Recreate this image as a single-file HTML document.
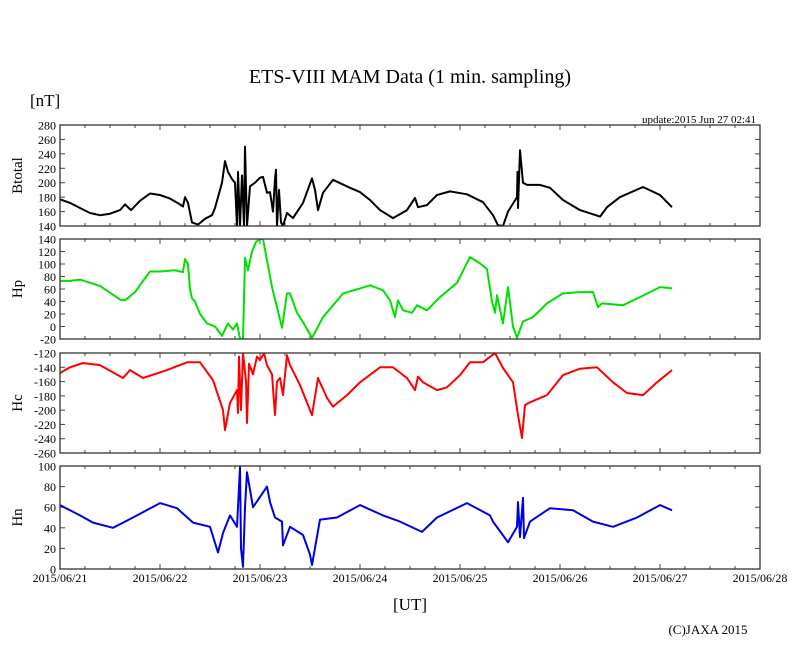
<!DOCTYPE html>
<html><head><meta charset="utf-8">
<style>
html,body{margin:0;padding:0;background:#fff;}
svg text{font-family:"Liberation Serif",serif;fill:#000;}
</style></head>
<body>
<svg id="chart" width="810" height="655" viewBox="0 0 810 655" xmlns="http://www.w3.org/2000/svg">
<text x="410" y="83" font-size="20" text-anchor="middle">ETS-VIII MAM Data (1 min. sampling)</text>
<text x="30" y="106" font-size="17">[nT]</text>
<text x="756" y="123" font-size="11" text-anchor="end">update:2015 Jun 27 02:41</text>
<text x="410" y="610" font-size="17" text-anchor="middle">[UT]</text>
<text x="708" y="634" font-size="13" text-anchor="middle">(C)JAXA 2015</text>
<g id="panels"></g>
</svg>
<script>
const xDays = ["2015/06/21","2015/06/22","2015/06/23","2015/06/24","2015/06/25","2015/06/26","2015/06/27","2015/06/28"];
const btT = [0,.10,.20,.30,.40,.50,.60,.65,.71,.80,.90,1.00,1.10,1.20,1.23,1.25,1.28,1.32,1.38,1.45,1.52,1.55,1.62,1.65,1.68,1.72,1.75,1.77,1.78,1.80,1.82,1.84,1.85,1.87,1.90,1.95,2.00,2.03,2.07,2.10,2.13,2.15,2.16,2.17,2.19,2.21,2.23,2.27,2.33,2.43,2.52,2.55,2.58,2.63,2.73,2.90,3.00,3.10,3.20,3.33,3.47,3.55,3.58,3.67,3.77,3.90,4.07,4.23,4.33,4.38,4.43,4.48,4.57,4.575,4.58,4.60,4.63,4.67,4.80,4.90,5.03,5.20,5.40,5.47,5.60,5.83,6.00,6.12];
const btV = [177,172,165,158,155,157,162,170,162,175,185,183,178,170,167,180,172,145,142,150,155,165,200,230,215,205,200,140,215,140,210,140,250,140,195,200,207,208,186,187,160,205,218,140,190,145,140,158,151,172,206,190,162,186,204,193,187,176,162,151,162,179,166,169,183,188,184,173,155,141,140,160,180,215,165,245,200,197,197,193,176,162,153,166,180,194,183,166];
const hpT = [0,.10,.20,.40,.60,.65,.75,.90,1.00,1.15,1.23,1.25,1.28,1.30,1.32,1.35,1.40,1.47,1.55,1.62,1.65,1.68,1.73,1.77,1.80,1.83,1.85,1.88,1.92,1.96,2.00,2.03,2.07,2.12,2.17,2.22,2.27,2.30,2.37,2.43,2.52,2.63,2.80,2.83,3.00,3.10,3.23,3.30,3.35,3.38,3.43,3.52,3.57,3.67,3.80,3.97,4.10,4.20,4.27,4.32,4.35,4.37,4.43,4.48,4.53,4.57,4.63,4.73,4.87,5.03,5.20,5.33,5.38,5.42,5.63,5.80,6.00,6.12];
const hpV = [73,73,75,65,43,42,55,88,88,90,87,108,100,60,45,40,20,5,0,-15,-5,5,-5,5,-20,-20,110,90,120,135,140,140,106,63,31,-2,53,53,22,7,-18,15,47,53,61,66,58,42,15,42,26,22,34,26,47,70,111,101,92,40,22,50,5,63,0,-18,8,15,37,53,55,55,31,37,34,47,63,61];
const hcT = [0,.10,.23,.40,.63,.70,.83,1.07,1.27,1.40,1.53,1.63,1.65,1.70,1.77,1.78,1.79,1.81,1.83,1.86,1.87,1.89,1.93,1.97,2.00,2.04,2.07,2.12,2.15,2.17,2.20,2.23,2.27,2.30,2.40,2.52,2.58,2.67,2.73,2.87,3.00,3.20,3.33,3.47,3.55,3.58,3.63,3.77,3.87,4.00,4.10,4.23,4.35,4.43,4.53,4.58,4.62,4.65,4.70,4.87,5.03,5.20,5.37,5.53,5.67,5.83,5.97,6.12];
const hcV = [-148,-140,-134,-137,-155,-144,-155,-144,-133,-133,-158,-200,-228,-190,-172,-204,-125,-200,-120,-160,-218,-135,-150,-125,-130,-120,-137,-150,-207,-160,-155,-179,-123,-137,-165,-207,-155,-183,-195,-179,-161,-140,-140,-155,-172,-153,-161,-172,-168,-151,-133,-133,-120,-141,-161,-207,-239,-193,-189,-179,-151,-142,-140,-161,-176,-179,-161,-144];
const hnT = [0,.20,.33,.53,.73,1.00,1.17,1.33,1.50,1.58,1.63,1.70,1.77,1.80,1.81,1.83,1.85,1.87,1.93,2.00,2.07,2.10,2.15,2.22,2.23,2.30,2.43,2.50,2.52,2.60,2.77,3.00,3.23,3.40,3.62,3.77,4.07,4.30,4.33,4.48,4.57,4.58,4.60,4.63,4.64,4.70,4.90,5.13,5.33,5.53,5.77,6.00,6.12];
const hnV = [62,52,45,40,50,64,59,45,41,16,35,52,41,99,20,2,60,94,60,70,80,65,50,46,23,41,33,14,4,48,50,62,52,46,36,50,64,52,46,26,41,65,31,69,30,46,59,57,46,41,50,62,57];
const btTicks = [140,160,180,200,220,240,260,280];
const hpTicks = [-20,0,20,40,60,80,100,120,140];
const hcTicks = [-260,-240,-220,-200,-180,-160,-140,-120];
const hnTicks = [0,20,40,60,80,100];

const NS="http://www.w3.org/2000/svg";
const X0=60, X1=760;
const xScale = d => X0 + d*(X1-X0)/7;
const root=document.getElementById('panels');
function mk(tag,attrs,parent){const e=document.createElementNS(NS,tag);for(const k in attrs)e.setAttribute(k,attrs[k]);(parent||root).appendChild(e);return e;}

const panels=[
 {key:'btotal',label:'Btotal',top:125,bot:226,ticks:btTicks,t:btT,v:btV,color:'#000'},
 {key:'hp',label:'Hp',top:239,bot:339,ticks:hpTicks,t:hpT,v:hpV,color:'#00e000'},
 {key:'hc',label:'Hc',top:353,bot:453,ticks:hcTicks,t:hcT,v:hcV,color:'#ff0000'},
 {key:'hn',label:'Hn',top:466,bot:569,ticks:hnTicks,t:hnT,v:hnV,color:'#0000e0'}
];
panels.forEach((p,pi)=>{
 const lo=p.ticks[0], hi=p.ticks[p.ticks.length-1];
 const yScale=v=>p.bot-(v-lo)*(p.bot-p.top)/(hi-lo);
 const g=mk('g',{});
 
 
 const cp=mk('clipPath',{id:'clip'+pi},g);
 mk('rect',{x:X0,y:p.top,width:X1-X0,height:p.bot-p.top},cp);
 p.ticks.forEach(tv=>{
  const y=yScale(tv);
  mk('line',{x1:X0,y1:y,x2:X0+5,y2:y,stroke:'#444','stroke-width':1},g);
  mk('line',{x1:X1,y1:y,x2:X1-5,y2:y,stroke:'#444','stroke-width':1},g);
  const t=mk('text',{x:X0-4,y:y+4.5,'font-size':12,'text-anchor':'end'},g);
  t.textContent=tv;
  
  
 });
 for(let q=0;q<=28;q++){
  const x=X0+q*(X1-X0)/28, len=(q%4===0)?5:3;
  mk('line',{x1:x,y1:p.bot,x2:x,y2:p.bot-len,stroke:'#444','stroke-width':1},g);
  mk('line',{x1:x,y1:p.top,x2:x,y2:p.top+len,stroke:'#444','stroke-width':1},g);
 }
 let d='';
 p.t.forEach((tt,i)=>{d+=(i?'L':'M')+xScale(tt).toFixed(1)+','+yScale(p.v[i]).toFixed(1);});
 const path=mk('path',{d:d,fill:'none',stroke:p.color,'stroke-width':2,'stroke-linejoin':'round','clip-path':'url(#clip'+pi+')'},g);
 
 
 const fr=mk('rect',{x:X0,y:p.top,width:X1-X0,height:p.bot-p.top,fill:'none',stroke:'#333','stroke-width':1.3},g);
 
 
 const cy=(p.top+p.bot)/2;
 const yl=mk('text',{x:22,y:cy,'font-size':15,'text-anchor':'middle',transform:'rotate(-90 22 '+cy+')'},g);
 yl.textContent=p.label;
 
 
});
xDays.forEach((lab,i)=>{
 const t=mk('text',{x:xScale(i),y:582,'font-size':12,'text-anchor':'middle'});
 t.textContent=lab;
 
 
});
</script>
</body></html>
